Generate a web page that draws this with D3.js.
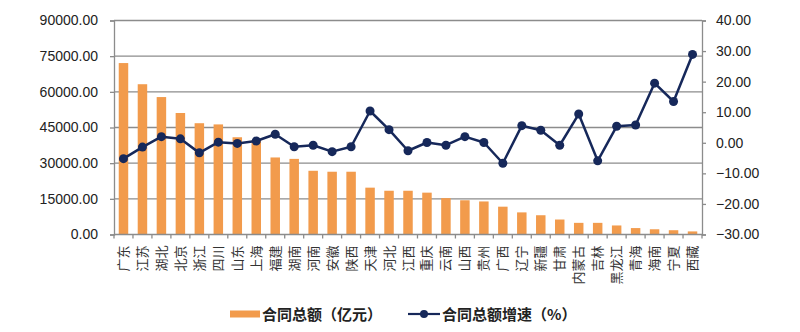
<!DOCTYPE html>
<html><head><meta charset="utf-8">
<script src="https://cdn.jsdelivr.net/npm/d3@7/dist/d3.min.js"></script>
<style>body{margin:0;background:#fff}svg{display:block}</style>
</head><body>
<svg id="c" width="800" height="332"></svg>
<script>
const categories = ["广东","江苏","湖北","北京","浙江","四川","山东","上海","福建","湖南","河南","安徽","陕西","天津","河北","江西","重庆","云南","山西","贵州","广西","辽宁","新疆","甘肃","内蒙古","吉林","黑龙江","青海","海南","宁夏","西藏"];
const totals = [72100,63200,57800,51100,46800,46300,40900,39600,32400,31800,26800,26400,26400,19700,18400,18400,17600,15300,14400,13900,11700,9300,8100,6300,4900,4900,3800,2700,2200,1800,1300];
const growth = [-5.2,-1.4,2.0,1.3,-3.3,0.2,-0.2,0.6,2.8,-1.3,-0.8,-2.9,-1.3,10.4,4.3,-2.6,0.1,-0.8,2.0,0.1,-6.7,5.6,4.1,-0.8,9.4,-5.9,5.4,5.8,19.5,13.5,28.9];
const leftTicks = [0,15000,30000,45000,60000,75000,90000];
const rightTicks = [-30,-20,-10,0,10,20,30,40];
const legendLabels = ["合同总额（亿元）","合同总额增速（%）"];

const svg = d3.select("#c");
const L = 114, R = 702, T = 20.5, B = 234.5;
const barColor = "#F29B4C", lineColor = "#16285A", gridColor = "#8C8C8C";
const numFont = "'Liberation Sans', Arial, sans-serif";
const cjkFont = "'Noto Sans CJK SC', sans-serif";

const x = d3.scaleBand().domain(categories).range([L, R]).paddingInner(0.5).paddingOuter(0.25);
const yL = d3.scaleLinear().domain([0, 90000]).range([B, T]);
const yR = d3.scaleLinear().domain([-30, 40]).range([B, T]);

// gridlines
svg.append("g").selectAll("line").data(leftTicks.slice(1)).join("line")
  .attr("x1", L).attr("x2", R).attr("y1", d => yL(d)).attr("y2", d => yL(d))
  .attr("stroke", gridColor).attr("stroke-width", 1.3);

// bars
svg.append("g").selectAll("rect").data(categories).join("rect")
  .attr("x", d => x(d)).attr("width", x.bandwidth())
  .attr("y", (d,i) => yL(totals[i])).attr("height", (d,i) => B - yL(totals[i]))
  .attr("fill", barColor);

// left axis
const gl = svg.append("g").attr("transform", `translate(${L},0)`)
  .call(d3.axisLeft(yL).tickValues(leftTicks).tickFormat(d => d3.format(".2f")(d)).tickSize(4).tickPadding(12));
gl.selectAll("text").attr("font-family", numFont).attr("font-size", 14).attr("fill", "#222");
gl.select(".domain").attr("stroke", gridColor).attr("stroke-width", 1.3);
gl.selectAll(".tick line").attr("stroke", gridColor).attr("stroke-width", 1.3);

// right axis
const gr = svg.append("g").attr("transform", `translate(${R},0)`)
  .call(d3.axisRight(yR).tickValues(rightTicks).tickFormat(d => d3.format(".2f")(d)).tickSize(4).tickPadding(10));
gr.selectAll("text").attr("font-family", numFont).attr("font-size", 14).attr("fill", "#222");
gr.select(".domain").attr("stroke", gridColor).attr("stroke-width", 1.3);
gr.selectAll(".tick line").attr("stroke", gridColor).attr("stroke-width", 1.3);

// bottom axis
const step = x.step();
svg.append("line").attr("x1", L).attr("x2", R).attr("y1", B).attr("y2", B)
  .attr("stroke", gridColor).attr("stroke-width", 1.3);
svg.append("g").selectAll("line").data(d3.range(categories.length + 1)).join("line")
  .attr("x1", i => L + i * (R - L) / categories.length).attr("x2", i => L + i * (R - L) / categories.length)
  .attr("y1", B).attr("y2", B + 4).attr("stroke", gridColor).attr("stroke-width", 1.3);
svg.append("g").selectAll("text").data(categories).join("text")
  .attr("transform", d => `translate(${x(d) + x.bandwidth()/2 + 4.5},${B + 11}) rotate(-90)`)
  .attr("text-anchor", "end").attr("font-family", cjkFont).attr("font-size", 13).attr("fill", "#333")
  .text(d => d);

// line
const line = d3.line().x((d,i) => x(categories[i]) + x.bandwidth()/2).y(d => yR(d));
svg.append("path").datum(growth).attr("d", line).attr("fill", "none")
  .attr("stroke", lineColor).attr("stroke-width", 2.5).attr("stroke-linejoin", "round");
svg.append("g").selectAll("circle").data(growth).join("circle")
  .attr("cx", (d,i) => x(categories[i]) + x.bandwidth()/2).attr("cy", d => yR(d)).attr("r", 4.5)
  .attr("fill", lineColor);

// legend
const lg = svg.append("g");
lg.append("rect").attr("x", 230).attr("y", 310.5).attr("width", 30).attr("height", 7).attr("fill", barColor);
lg.append("text").attr("x", 262).attr("y", 319.5).attr("font-family", cjkFont).attr("font-size", 15)
  .attr("font-weight", "bold").attr("fill", "#222").text(legendLabels[0]);
lg.append("line").attr("x1", 408).attr("x2", 440).attr("y1", 314).attr("y2", 314)
  .attr("stroke", lineColor).attr("stroke-width", 2.2);
lg.append("circle").attr("cx", 424).attr("cy", 314).attr("r", 4).attr("fill", lineColor);
lg.append("text").attr("x", 442).attr("y", 319.5).attr("font-family", cjkFont).attr("font-size", 15)
  .attr("font-weight", "bold").attr("fill", "#222").text(legendLabels[1]);
</script>
</body></html>
